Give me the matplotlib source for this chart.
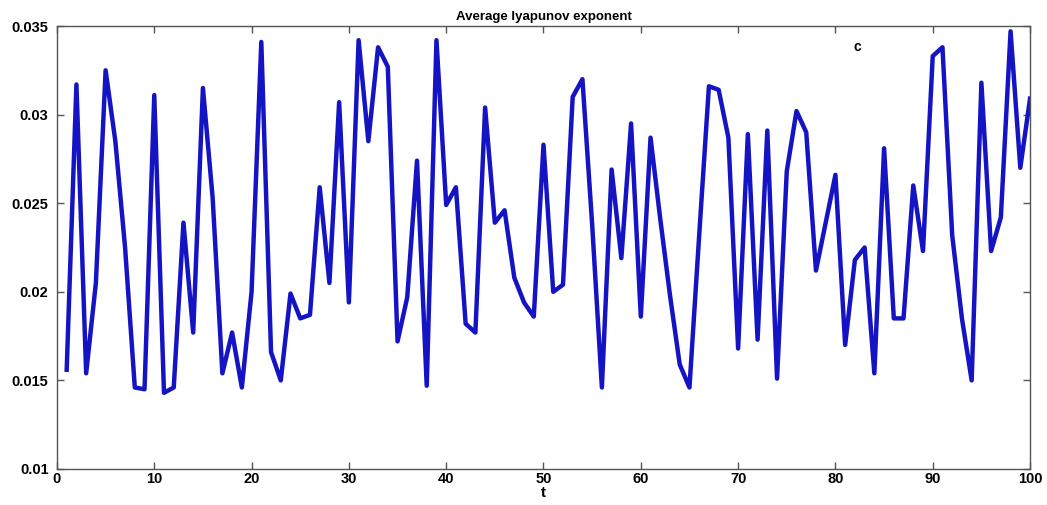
import matplotlib
matplotlib.use("Agg")
import matplotlib.pyplot as plt
from matplotlib.ticker import FixedLocator, FixedFormatter

plt.rcParams['font.family'] = ['Liberation Sans', 'DejaVu Sans']

t = list(range(1, 101))
lyap = [
    0.0156, 0.0317, 0.0154, 0.0205, 0.0325, 0.0285, 0.0225, 0.0146, 0.0145, 0.0311,
    0.0143, 0.0146, 0.0239, 0.0177, 0.0315, 0.0253, 0.0154, 0.0177, 0.0146, 0.0200,
    0.0341, 0.0166, 0.0150, 0.0199, 0.0185, 0.0187, 0.0259, 0.0205, 0.0307, 0.0194,
    0.0342, 0.0285, 0.0338, 0.0327, 0.0172, 0.0197, 0.0274, 0.0147, 0.0342, 0.0249,
    0.0259, 0.0182, 0.0177, 0.0304, 0.0239, 0.0246, 0.0208, 0.0194, 0.0186, 0.0283,
    0.0200, 0.0204, 0.0310, 0.0320, 0.0238, 0.0146, 0.0269, 0.0219, 0.0295, 0.0186,
    0.0287, 0.0241, 0.0198, 0.0159, 0.0146, 0.0232, 0.0316, 0.0314, 0.0287, 0.0168,
    0.0289, 0.0173, 0.0291, 0.0151, 0.0268, 0.0302, 0.0290, 0.0212, 0.0239, 0.0266,
    0.0170, 0.0218, 0.0225, 0.0154, 0.0281, 0.0185, 0.0185, 0.0260, 0.0223, 0.0333,
    0.0338, 0.0232, 0.0185, 0.0150, 0.0318, 0.0223, 0.0242, 0.0347, 0.0270, 0.0309,
]

x_ticks = [0, 10, 20, 30, 40, 50, 60, 70, 80, 90, 100]
y_ticks = [0.01, 0.015, 0.02, 0.025, 0.03, 0.035]
y_tick_labels = ["0.01", "0.015", "0.02", "0.025", "0.03", "0.035"]

fig = plt.figure(figsize=(10.47, 5.05), dpi=100)
ax = fig.add_axes([0.0544, 0.0713, 0.9294, 0.8772])

ax.plot(t, lyap, color='#1414c4', linewidth=3.2, solid_joinstyle='round')

ax.set_xlim(0, 100)
ax.set_ylim(0.01, 0.035)
ax.xaxis.set_major_locator(FixedLocator(x_ticks))
ax.yaxis.set_major_locator(FixedLocator(y_ticks))
ax.yaxis.set_major_formatter(FixedFormatter(y_tick_labels))
ax.tick_params(direction='in', top=True, right=True, length=5, width=1,
               color='#555555', labelsize=10.5)
ax.tick_params(axis='y', pad=6)
ax.tick_params(axis='x', pad=2)
for lab in ax.get_xticklabels() + ax.get_yticklabels():
    lab.set_fontweight('bold')
for sp in ax.spines.values():
    sp.set_color('#555555')
    sp.set_linewidth(1.0)

ax.set_title("Average lyapunov exponent", fontsize=9.5, fontweight='bold', pad=4)
ax.set_xlabel("t", fontsize=11, fontweight='bold', labelpad=0)
ax.text(82.3, 0.0338, "c", fontsize=10, fontweight='bold', ha='center', va='center')

fig.savefig("out.png", dpi=100)
